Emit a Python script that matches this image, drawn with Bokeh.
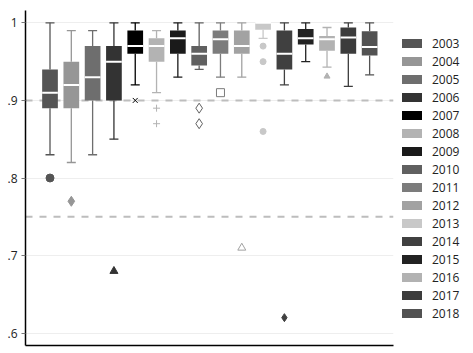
from bokeh.plotting import figure
from bokeh.models import (ColumnDataSource, Range1d, FixedTicker, Span, Legend, LegendItem)
from bokeh.embed import file_html
from bokeh.resources import INLINE

years = ["2003", "2004", "2005", "2006", "2007", "2008", "2009", "2010",
         "2011", "2012", "2013", "2014", "2015", "2016", "2017", "2018"]
colors = ["#555555", "#969696", "#6e6e6e", "#333333", "#000000", "#b3b3b3",
          "#1a1a1a", "#606060", "#7c7c7c", "#a2a2a2", "#c8c8c8", "#404040",
          "#222222", "#b2b2b2", "#3c3c3c", "#525252"]
whisker_lo = [0.83, 0.82, 0.83, 0.85, 0.92, 0.91, 0.93, 0.94,
              0.93, 0.93, 0.98, 0.92, 0.95, 0.943, 0.918, 0.933]
q1 = [0.89, 0.89, 0.90, 0.90, 0.96, 0.95, 0.96, 0.945,
      0.96, 0.96, 0.991, 0.94, 0.972, 0.964, 0.96, 0.958]
median = [0.91, 0.92, 0.93, 0.95, 0.97, 0.97, 0.98, 0.96,
          0.979, 0.97, 1.00, 0.96, 0.98, 0.979, 0.981, 0.969]
q3 = [0.94, 0.95, 0.97, 0.97, 0.99, 0.98, 0.99, 0.97,
      0.99, 0.99, 1.00, 0.99, 0.992, 0.983, 0.994, 0.989]
whisker_hi = [1.00, 0.99, 0.99, 1.00, 1.00, 0.99, 1.00, 1.00,
              1.00, 1.00, 1.00, 1.00, 1.00, 0.994, 1.00, 1.00]

# outliers: year and value
out_year = ["2003", "2004", "2006", "2007", "2008", "2008", "2010", "2010",
            "2011", "2012", "2013", "2013", "2013", "2014", "2016"]
out_value = [0.80, 0.77, 0.68, 0.90, 0.89, 0.87, 0.89, 0.87,
             0.91, 0.71, 0.97, 0.95, 0.86, 0.62, 0.931]

# marker style per year (Stata-like cycle)
year_marker = ["circle", "diamond", "square", "triangle", "x", "cross", "circle", "diamond",
               "square", "triangle", "circle", "diamond", "square", "triangle", "x", "cross"]
year_hollow = [False, False, False, False, False, False, True, True,
               True, True, False, False, False, False, False, False]
year_msize = [8, 10, 7, 8, 7, 7, 8, 10, 8, 8, 6, 8, 5, 6, 5, 5]

ref_lines = [0.9, 0.75]
y_ticks = [0.6, 0.7, 0.8, 0.9, 1.0]
y_tick_labels = [".6", ".7", ".8", ".9", "1"]

xs = list(range(1, len(years) + 1))
box_src = ColumnDataSource(dict(x=xs, lo=whisker_lo, q1=q1, med=median, q3=q3,
                                hi=whisker_hi, color=colors, year=years))

idx = [years.index(y) for y in out_year]
out_src = ColumnDataSource(dict(
    x=[xs[i] for i in idx], y=out_value,
    marker=[year_marker[i] for i in idx],
    color=[colors[i] for i in idx],
    falpha=[0.0 if year_hollow[i] else 1.0 for i in idx],
    size=[year_msize[i] for i in idx]))

p = figure(frame_width=368, frame_height=335, output_backend="svg", toolbar_location=None,
           x_range=Range1d(-0.15, 17.12), y_range=Range1d(0.5841, 1.0159),
           min_border_left=25, min_border_right=0, min_border_top=10,
           min_border_bottom=8, outline_line_color=None)

p.xgrid.visible = False
p.ygrid.ticker = FixedTicker(ticks=y_ticks)
p.ygrid.grid_line_color = "#eeeeee"
p.ygrid.grid_line_width = 1

for v in ref_lines:
    p.add_layout(Span(location=v, dimension="width", line_color="#bdbdbd",
                      line_width=2, line_dash="7 7", level="underlay"))

# whiskers
p.segment(x0="x", y0="q3", x1="x", y1="hi", line_color="color", line_width=1.3, source=box_src)
p.segment(x0="x", y0="lo", x1="x", y1="q1", line_color="color", line_width=1.3, source=box_src)
p.scatter(x="x", y="hi", marker="dash", size=9, line_color="color", line_width=1.3, source=box_src)
p.scatter(x="x", y="lo", marker="dash", size=9, line_color="color", line_width=1.3, source=box_src)

boxes = p.vbar(x="x", width=0.737, bottom="q1", top="q3", fill_color="color",
               line_color=None, source=box_src)
p.rect(x="x", y="med", width=0.737, height=2, height_units="screen",
       fill_color="white", line_color=None, source=box_src)

p.scatter(x="x", y="y", marker="marker", size="size", line_color="color",
          fill_color="color", fill_alpha="falpha", line_width=1, source=out_src)

# axes
yax = p.yaxis[0]
yax.ticker = FixedTicker(ticks=y_ticks)
yax.major_label_overrides = {t: l for t, l in zip(y_ticks, y_tick_labels)}
yax.minor_tick_line_color = None
yax.major_tick_out = 4
yax.major_tick_in = 0
yax.major_tick_line_color = "#777777"
yax.axis_line_color = "black"
yax.axis_line_width = 1.5
yax.major_label_standoff = 4
yax.major_label_text_font = "Open Sans"
yax.major_label_text_font_size = "12px"
yax.major_label_text_color = "#222222"

xax = p.xaxis[0]
xax.ticker = FixedTicker(ticks=[])
xax.major_tick_line_color = None
xax.minor_tick_line_color = None
xax.major_label_text_font_size = "0px"
xax.major_tick_out = 0
xax.major_label_standoff = 0
xax.axis_line_color = "black"
xax.axis_line_width = 1.5

legend = Legend(items=[LegendItem(label=y, renderers=[boxes], index=i) for i, y in enumerate(years)],
                location="center_left", glyph_width=25, glyph_height=11,
                label_height=16, spacing=1, padding=10, margin=6,
                label_standoff=8, label_text_font="Open Sans",
                label_text_font_size="12px", label_text_color="#222222",
                border_line_color=None, background_fill_alpha=0)
p.add_layout(legend, "right")

open("out.html", "w").write(file_html(p, INLINE))
